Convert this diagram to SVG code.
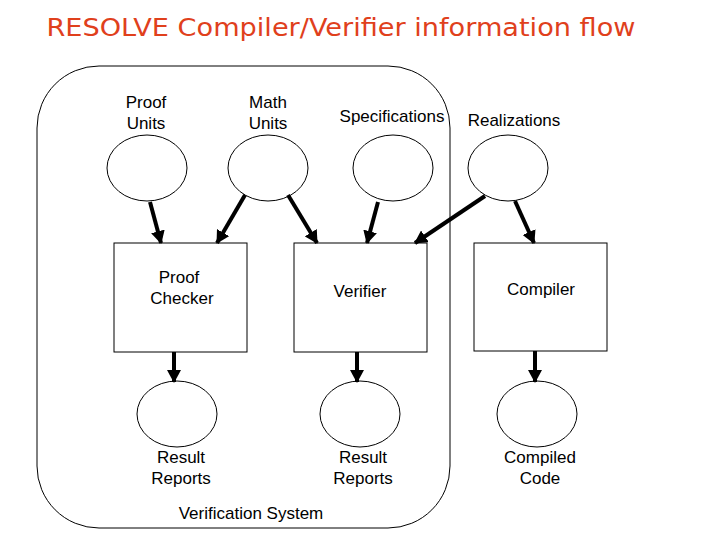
<svg xmlns="http://www.w3.org/2000/svg" width="720" height="540" viewBox="0 0 720 540">
<style>
.lbl{font-family:"Liberation Sans",Arial,sans-serif;font-size:17px;fill:#000;text-anchor:middle}
.ell{fill:#fff;stroke:#000;stroke-width:1}
.box{fill:#fff;stroke:#000;stroke-width:1}
.arr{stroke:#000;stroke-width:4;fill:none;marker-end:url(#ah)}
</style>
<defs>
<marker id="ah" markerUnits="userSpaceOnUse" markerWidth="14" markerHeight="14" refX="12" refY="7" orient="auto">
<path d="M0,0 L13,7 L0,14 Z" fill="#000"/>
</marker>
</defs>
<rect width="720" height="540" fill="#fff"/>
<text x="341" y="36" text-anchor="middle" font-family="'Comic Sans MS','DejaVu Sans',sans-serif" font-size="24" fill="#e0401c" textLength="589" lengthAdjust="spacingAndGlyphs">RESOLVE Compiler/Verifier information flow</text>
<g id="verification-system">
<rect x="37" y="66" width="413" height="462" rx="62" ry="62" fill="none" stroke="#000" stroke-width="1"/>
<text class="lbl" x="251" y="519">Verification System</text>
</g>
<g id="proof-units">
<text class="lbl" x="146" y="108">Proof</text><text class="lbl" x="146" y="129">Units</text>
<ellipse class="ell" cx="147" cy="168" rx="40" ry="33"/>
</g>
<g id="math-units">
<text class="lbl" x="268" y="108">Math</text><text class="lbl" x="268" y="129">Units</text>
<ellipse class="ell" cx="268" cy="168" rx="40" ry="33"/>
</g>
<g id="specifications">
<text class="lbl" x="392" y="122">Specifications</text>
<ellipse class="ell" cx="393" cy="168" rx="40" ry="33"/>
</g>
<g id="realizations">
<text class="lbl" x="514" y="126">Realizations</text>
<ellipse class="ell" cx="508" cy="168" rx="40" ry="33"/>
</g>
<g id="proof-checker">
<rect class="box" x="114" y="243" width="133" height="109"/>
<text class="lbl" x="179" y="283">Proof</text><text class="lbl" x="182" y="304">Checker</text>
</g>
<g id="verifier">
<rect class="box" x="294" y="243" width="133" height="109"/>
<text class="lbl" x="360" y="297">Verifier</text>
</g>
<g id="compiler">
<rect class="box" x="474" y="243" width="133" height="108"/>
<text class="lbl" x="541" y="295">Compiler</text>
</g>
<g id="result-reports-1">
<ellipse class="ell" cx="177" cy="414" rx="40" ry="33"/>
<text class="lbl" x="181" y="463">Result</text><text class="lbl" x="181" y="484">Reports</text>
</g>
<g id="result-reports-2">
<ellipse class="ell" cx="360" cy="414" rx="40" ry="33"/>
<text class="lbl" x="363" y="463">Result</text><text class="lbl" x="363" y="484">Reports</text>
</g>
<g id="compiled-code">
<ellipse class="ell" cx="537" cy="414" rx="40" ry="33"/>
<text class="lbl" x="540" y="463">Compiled</text><text class="lbl" x="540" y="484">Code</text>
</g>
<g id="connectors">
<line class="arr" x1="150" y1="202" x2="161" y2="243"/>
<line class="arr" x1="245" y1="195" x2="217" y2="243"/>
<line class="arr" x1="288" y1="195" x2="317" y2="243"/>
<line class="arr" x1="378" y1="202" x2="367" y2="243"/>
<line class="arr" x1="485" y1="196" x2="415" y2="243"/>
<line class="arr" x1="515" y1="201" x2="534" y2="243"/>
<line class="arr" x1="174" y1="352" x2="174" y2="382"/>
<line class="arr" x1="357" y1="352" x2="357" y2="382"/>
<line class="arr" x1="535" y1="351" x2="535" y2="382"/>
</g>
</svg>
